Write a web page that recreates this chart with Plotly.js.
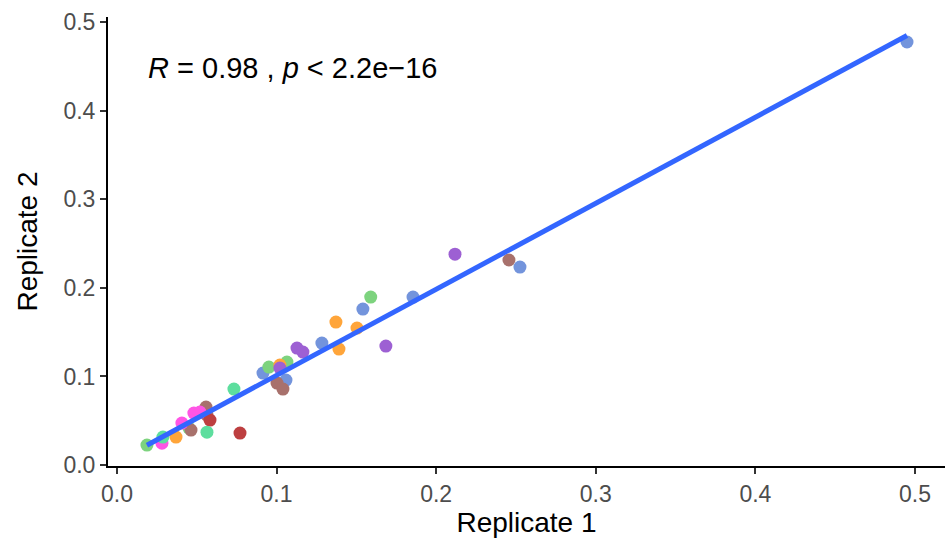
<!DOCTYPE html>
<html>
<head>
<meta charset="utf-8">
<script src="https://cdn.plot.ly/plotly-3.0.1.min.js"></script>
<style>html,body{margin:0;padding:0;background:#fff}#chart{width:945px;height:538px}</style>
</head>
<body>
<div id="chart"></div>
<script>
// Data: replicate 1 (x) vs replicate 2 (y), grouped by colour
const groupNames = ["blue", "green", "orange", "purple", "brown", "red", "pink", "teal"];
const groupColors = ["#7394DC", "#7DD37E", "#FFA53A", "#9D60D3", "#A8716C", "#BD3F40", "#FF55E5", "#5DDE9E"];

const blueX = [0.495, 0.2525, 0.1855, 0.1541, 0.1284, 0.0915, 0.1059];
const blueY = [0.4774, 0.2235, 0.1896, 0.176, 0.1377, 0.1038, 0.0959];
const greenX = [0.159, 0.0952, 0.1065, 0.0188, 0.0451];
const greenY = [0.1896, 0.1106, 0.1163, 0.0226, 0.0418];
const orangeX = [0.1372, 0.1504, 0.1391, 0.1021, 0.037];
const orangeY = [0.1614, 0.1546, 0.1309, 0.1129, 0.0316];
const purpleX = [0.2118, 0.1685, 0.1128, 0.1165, 0.1021];
const purpleY = [0.238, 0.1343, 0.132, 0.1275, 0.1095];
const brownX = [0.2456, 0.1003, 0.104, 0.0558, 0.0564, 0.0464];
const brownY = [0.2314, 0.0926, 0.0858, 0.0655, 0.0564, 0.0395];
const redX = [0.0583, 0.0771];
const redY = [0.0508, 0.0361];
const pinkX = [0.0282, 0.0407, 0.0482, 0.052];
const pinkY = [0.0248, 0.0474, 0.0587, 0.0598];
const tealX = [0.0733, 0.0564, 0.0288];
const tealY = [0.0858, 0.0372, 0.0316];

const tickVals = [0, 0.1, 0.2, 0.3, 0.4, 0.5];
const tickText = ["0.0", "0.1", "0.2", "0.3", "0.4", "0.5"];
const statLabel = "<i>R</i> = 0.98 , <i>p</i> < 2.2e\u221216";

const groupsX = [blueX, greenX, orangeX, purpleX, brownX, redX, pinkX, tealX];
const groupsY = [blueY, greenY, orangeY, purpleY, brownY, redY, pinkY, tealY];

const traces = groupsX.map((gx, i) => ({
  type: "scatter", mode: "markers", x: gx, y: groupsY[i], name: groupNames[i],
  marker: {color: groupColors[i], size: 13, line: {width: 0}},
  hoverinfo: "x+y", showlegend: false
}));

// Linear regression fitted over all points
const allX = [].concat(...groupsX), allY = [].concat(...groupsY);
const n = allX.length;
const mx = allX.reduce((a, b) => a + b, 0) / n, my = allY.reduce((a, b) => a + b, 0) / n;
let sxy = 0, sxx = 0;
for (let i = 0; i < n; i++) { sxy += (allX[i] - mx) * (allY[i] - my); sxx += (allX[i] - mx) ** 2; }
const slope = sxy / sxx, intercept = my - slope * mx;
const xmin = Math.min(...allX), xmax = Math.max(...allX);
traces.push({
  type: "scatter", mode: "lines", x: [xmin, xmax], y: [intercept + slope * xmin, intercept + slope * xmax],
  line: {color: "#3366FF", width: 5}, showlegend: false, hoverinfo: "skip"
});

const font = "Liberation Sans, Arial, sans-serif";
const axisCommon = {
  showgrid: false, zeroline: false, showline: true, linecolor: "#000", linewidth: 2,
  ticks: "outside", ticklen: 6, tickwidth: 2, tickcolor: "#333",
  tickvals: tickVals, ticktext: tickText,
  tickfont: {family: font, size: 23, color: "#4D4D4D"}, automargin: false
};

const layout = {
  width: 945, height: 538,
  margin: {l: 108, r: 0, t: 17, b: 72},
  paper_bgcolor: "#fff", plot_bgcolor: "#fff",
  font: {family: font},
  xaxis: Object.assign({}, axisCommon, {
    range: [-0.0056, 0.5188],
    title: {text: "Replicate 1", font: {family: font, size: 28, color: "#000"}, standoff: 4}
  }),
  yaxis: Object.assign({}, axisCommon, {
    range: [-0.001, 0.5056],
    title: {text: "Replicate 2", font: {family: font, size: 28, color: "#000"}, standoff: 18}
  }),
  annotations: [{
    xref: "x", yref: "y", x: 0.0185, y: 0.448, xanchor: "left", yanchor: "middle",
    text: statLabel, showarrow: false, font: {family: font, size: 29, color: "#000"}
  }]
};

Plotly.newPlot("chart", traces, layout, {displayModeBar: false, staticPlot: true});
</script>
</body>
</html>
